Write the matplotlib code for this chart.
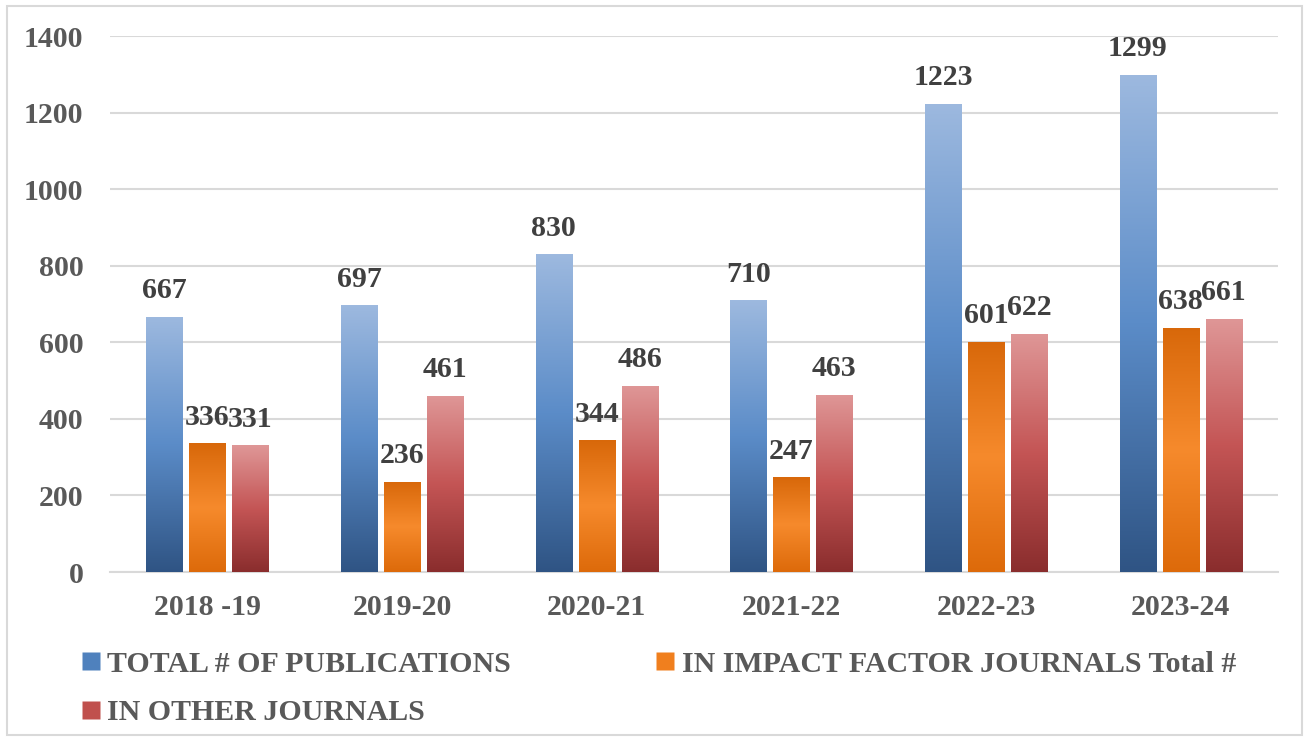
import numpy as np
import matplotlib
matplotlib.use("Agg")
import matplotlib.pyplot as plt
from matplotlib.colors import LinearSegmentedColormap
from matplotlib.lines import Line2D
from matplotlib.patches import Rectangle
from matplotlib.font_manager import FontProperties

# data
years = ["2018 -19", "2019-20", "2020-21", "2021-22", "2022-23", "2023-24"]
total_pubs = [667, 697, 830, 710, 1223, 1299]
impact_pubs = [336, 236, 344, 247, 601, 638]
other_pubs = [331, 461, 486, 463, 622, 661]
series_names = ["TOTAL # OF PUBLICATIONS",
                "IN IMPACT FACTOR JOURNALS Total #",
                "IN OTHER JOURNALS"]

plt.rcParams['font.family'] = ['Liberation Serif', 'DejaVu Serif']
plt.rcParams['font.weight'] = 'bold'
fp = FontProperties(family="Liberation Serif", weight="bold", size=21.5)

# gradients (top -> bottom)
grad_colors = [
    ["#9DB9DF", "#5B8CC8", "#2F5484"],
    ["#D8680A", "#F68A2C", "#DD6A0A"],
    ["#DF9797", "#C45555", "#8A2D2D"],
]
mid_colors = ["#4F81BD", "#F07F1E", "#C0504D"]

fig = plt.figure(figsize=(13.08, 7.41), dpi=100)
ax = fig.add_axes([0.0841, 0.228, 0.893, 0.7234])

x = np.arange(len(years))
w = 0.185
step = 0.221
all_series = [total_pubs, impact_pubs, other_pubs]

for i, vals in enumerate(all_series):
    bars = ax.bar(x + (i - 1) * step, vals, width=w, color="none",
                  edgecolor="none", zorder=3)
    cmap = LinearSegmentedColormap.from_list("g%d" % i, grad_colors[i])
    grad = np.linspace(0, 1, 256).reshape(-1, 1)
    for b, v in zip(bars, vals):
        x0 = b.get_x()
        im = ax.imshow(grad, cmap=cmap, aspect="auto",
                       extent=[x0, x0 + b.get_width(), 0, b.get_height()],
                       origin="upper", zorder=3)
        im.set_clip_path(b)
        ax.annotate(str(v), (b.get_x() + b.get_width() / 2, v),
                    xytext=(0, 9), textcoords="offset points",
                    ha="center", va="bottom", fontproperties=fp,
                    color="#404040", zorder=4)

ax.set_xlim(-0.5, len(years) - 0.5)
ax.set_ylim(0, 1400)
ax.set_yticks(np.arange(0, 1401, 200))
ax.set_xticks(x)
ax.set_xticklabels(years)
ax.tick_params(axis="both", length=0, labelcolor="#595959")
ax.tick_params(axis="y", pad=19)
ax.tick_params(axis="x", pad=16)
for lab in ax.get_xticklabels() + ax.get_yticklabels():
    lab.set_fontproperties(fp)
ax.grid(axis="y", color="#D9D9D9", linewidth=1.5, zorder=0)
ax.set_axisbelow(True)
for s in ["top", "right", "left"]:
    ax.spines[s].set_visible(False)
ax.spines["bottom"].set_color("#D9D9D9")
ax.spines["bottom"].set_linewidth(1.5)

# legend fills column by column, so reorder to get row order total, impact / other
order = [0, 2, 1]
handles = [Line2D([], [], marker="s", linestyle="none", markersize=12.5,
                  markerfacecolor=mid_colors[k], markeredgecolor="none") for k in order]
leg = fig.legend(handles, [series_names[k] for k in order], loc="upper left",
                 bbox_to_anchor=(0.0535, 0.138), ncol=2, frameon=False,
                 prop=fp, handlelength=0.6, handletextpad=0.25,
                 columnspacing=4.87, labelspacing=0.72, borderaxespad=0)
for t in leg.get_texts():
    t.set_color("#595959")
    t.set_fontproperties(fp)

fig.patches.append(Rectangle((7 / 1308, 6 / 741), 1295 / 1308, 729 / 741,
                             transform=fig.transFigure, fill=False,
                             edgecolor="#D9D9D9", linewidth=1.5))

fig.savefig("out.png", dpi=100)
